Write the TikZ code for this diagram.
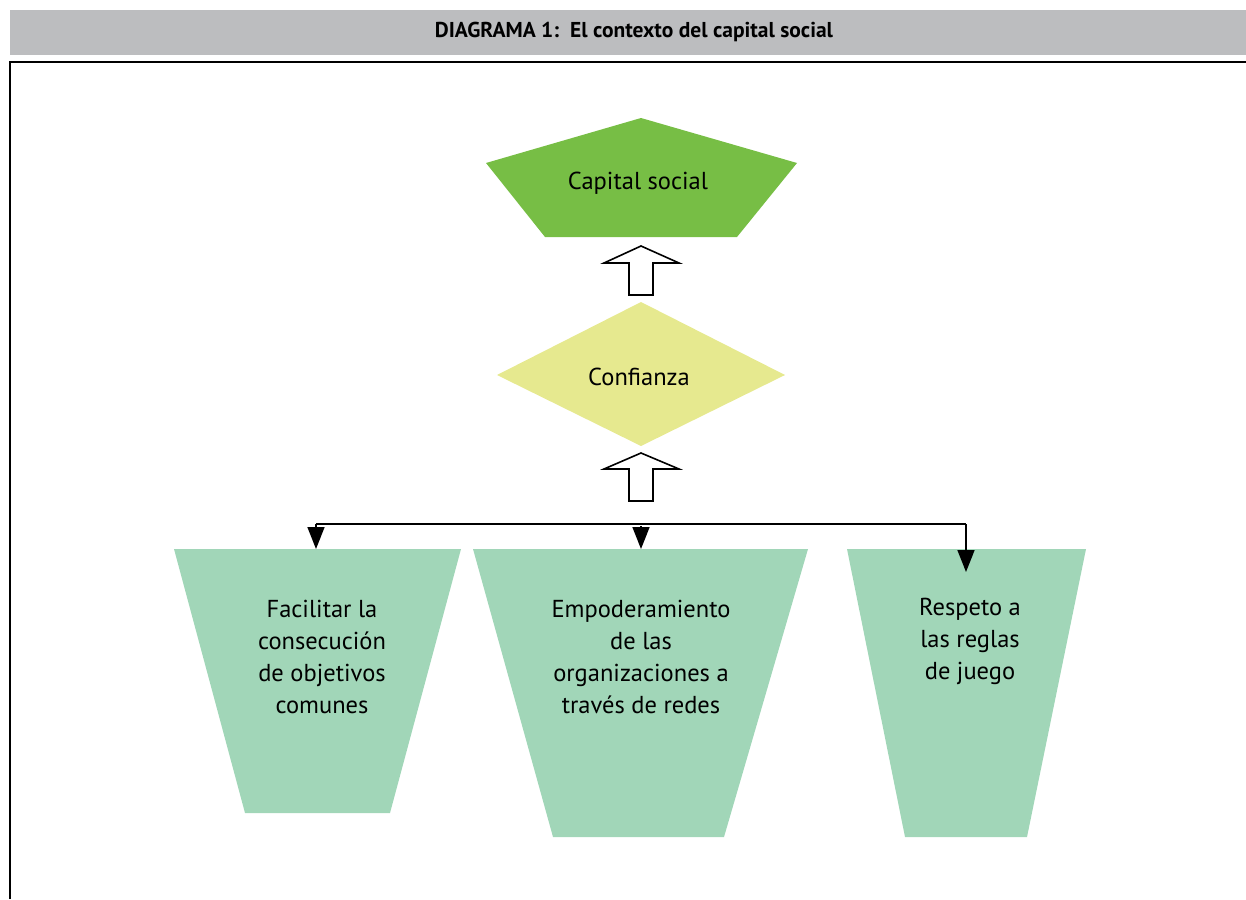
\documentclass[tikz,border=0pt]{standalone}
\usepackage{fontspec}
\setmainfont{PT Sans}
\usetikzlibrary{arrows.meta}
\definecolor{hdrgray}{RGB}{188,189,191}
\definecolor{capgreen}{RGB}{119,190,69}
\definecolor{confy}{RGB}{230,233,143}
\definecolor{trapg}{RGB}{161,214,184}
\tikzset{
  lbl/.style={font=\fontsize{24.5}{32}\selectfont, align=center, inner sep=0pt},
  blockarrow/.style={draw=black, line width=1.6pt, fill=white, line join=miter},
  conn/.style={draw=black, line width=1.6pt},
  tipconn/.style={conn, -{Triangle[length=22pt,width=17pt]}},
}
\begin{document}
\begin{tikzpicture}[x=1pt,y=-1pt]
\useasboundingbox (0,0) rectangle (1246,899);
% header
\fill[hdrgray] (10,10) rectangle (1246,55);
\node[font=\bfseries\fontsize{21.5}{24}\selectfont, inner sep=0pt] (title) at (634,32) {DIAGRAMA 1:\ \ El contexto del capital social};
% frame
\draw[line width=1.2pt] (10,899) -- (10,62) -- (1246,62);
% capital social pentagon
\fill[capgreen] (641,118) -- (797,163) -- (737,237) -- (545,237) -- (486,163) -- cycle;
\node[lbl] (cap) at (638,183) {Capital social};
% confianza diamond
\fill[confy] (641,302) -- (785,375) -- (641,446) -- (497,375) -- cycle;
\node[lbl] (conf) at (639,377) {Confianza};
% block arrows
\draw[blockarrow] (641,246) -- (679,263) -- (653,263) -- (653,295) -- (629,295) -- (629,263) -- (604,263) -- cycle;
\draw[blockarrow] (641,453) -- (679,469) -- (653,469) -- (653,501) -- (629,501) -- (629,469) -- (604,469) -- cycle;
% trapezoids
\fill[trapg] (174,549) -- (461,549) -- (390,813) -- (245,813) -- cycle;
\fill[trapg] (473,549) -- (808,549) -- (724,837) -- (553,837) -- cycle;
\fill[trapg] (847,549) -- (1086,549) -- (1027,837) -- (905,837) -- cycle;
\node[lbl] (t1) at (322,657) {Facilitar la\\consecución\\de objetivos\\comunes};
\node[lbl] (t2) at (641,657) {Empoderamiento\\de las\\organizaciones a\\través de redes};
\node[lbl] (t3) at (970,641) {Respeto a\\las reglas\\de juego};
% connectors
\coordinate (hl) at (316,524);
\coordinate (hm) at (641,524);
\coordinate (hr) at (966,524);
\coordinate (e1) at (316,549);
\coordinate (e2) at (641,549);
\coordinate (e3) at (966,572);
\draw[conn] (hl) -- (hr);
\draw[tipconn] (hl) -- (e1);
\draw[tipconn] ([yshift=-2pt]hm) -- (e2);
\draw[tipconn] (hr) -- (e3);
\end{tikzpicture}
\end{document}
